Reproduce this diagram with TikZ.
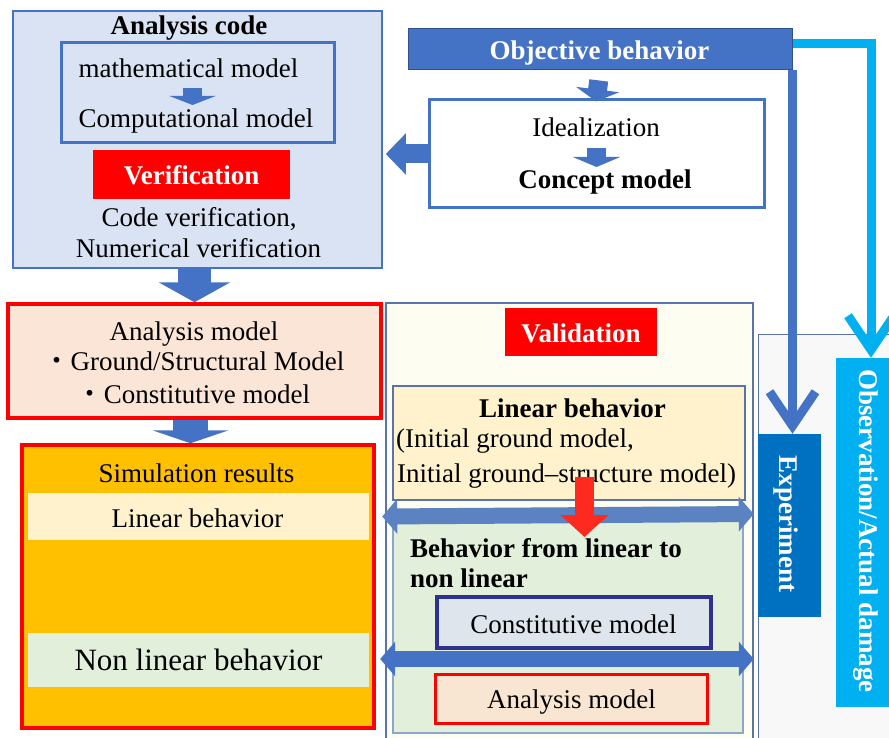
\documentclass[tikz,border=0pt]{standalone}
\usepackage{fontspec}
\setmainfont{Liberation Serif}
\newfontfamily\cjk{Noto Sans CJK JP}
\usepackage{tikz}
\usetikzlibrary{arrows.meta}

\definecolor{codefill}{HTML}{DAE3F3}
\definecolor{boxblue}{HTML}{4472C4}
\definecolor{arrline}{HTML}{2F528F}
\definecolor{amfill}{HTML}{FBE5D6}
\definecolor{simfill}{HTML}{FFC000}
\definecolor{linfill}{HTML}{FFF2CC}
\definecolor{nlfill}{HTML}{E2EFDA}
\definecolor{valfill}{HTML}{FEFDF1}
\definecolor{valline}{HTML}{5A73A8}
\definecolor{greenline}{HTML}{8DA6D0}
\definecolor{cmfill}{HTML}{DEE5EC}
\definecolor{cmline}{HTML}{2E3192}
\definecolor{amtwofill}{HTML}{F9E6D2}
\definecolor{expfill}{HTML}{0070C0}
\definecolor{obsfill}{HTML}{00B0F0}
\definecolor{grayfill}{HTML}{F8F8F8}
\definecolor{dblup}{HTML}{5B82C1}
\definecolor{redarrow}{HTML}{FF2A1F}

\begin{document}
\begin{tikzpicture}[x=1pt,y=1pt,yscale=-1,xscale=1,
  every node/.style={inner sep=0pt,font=\fontsize{27}{32}\selectfont},
  fatarrow/.style n args={4}{draw=#1,line width=#2,-{Triangle[width=#3,length=#4]}},
  dblarrow/.style={draw=#1,line width=16pt,{Triangle[width=34pt,length=15pt]}-{Triangle[width=34pt,length=15pt]}},
  barb/.style={draw=#1,line width=9pt,-{Straight Barb[width=46pt,length=34pt,line width=9pt,sharp]}}
]
\useasboundingbox (0,0) rectangle (889,738);

%Shape: Rectangle (right side)
\draw (829,539.5) node (side) [fill=grayfill,draw=valline,line width=1pt,minimum width=142pt,minimum height=411pt] {};
%Shape: Rectangle (validation)
\draw (569.5,524) node (val) [fill=valfill,draw=valline,line width=1.5pt,minimum width=367pt,minimum height=442pt] {};

%Shape: Rectangle
\draw (197.5,139.5) node (code) [fill=codefill,draw=boxblue,line width=1.5pt,minimum width=369pt,minimum height=257pt] {};
%Shape: Rectangle
\draw (197.5,93) node (modelbox) [draw=boxblue,line width=3pt,minimum width=273pt,minimum height=100pt] {};
%Shape: Rectangle
\draw (191.5,174.5) node (verif) [fill=red,minimum width=197pt,minimum height=49pt] {};
%Shape: Rectangle
\draw (600,49.5) node (obj) [fill=boxblue,draw=arrline,line width=1pt,minimum width=384pt,minimum height=41pt] {};
%Shape: Rectangle
\draw (596.5,154) node (ideal) [fill=white,draw=boxblue,line width=3pt,minimum width=335pt,minimum height=108pt] {};
%Shape: Rectangle
\draw (194.5,361) node (amodel) [fill=amfill,draw=red,line width=3.5pt,minimum width=373pt,minimum height=114pt] {};
%Shape: Rectangle
\draw (198,586.5) node (sim) [fill=simfill,draw=red,line width=3.5pt,minimum width=352pt,minimum height=283pt] {};
%Shape: Rectangle
\draw (198.5,516.5) node (linband) [fill=linfill,minimum width=341pt,minimum height=47pt] {};
%Shape: Rectangle
\draw (198.5,660) node (nlband) [fill=nlfill,minimum width=341pt,minimum height=54pt] {};
%Shape: Rectangle
\draw (581,332) node (vallabel) [fill=red,minimum width=152pt,minimum height=48pt] {};
%Shape: Rectangle
\draw (569,443) node (linbox) [fill=linfill,draw=valline,line width=1.5pt,minimum width=352pt,minimum height=114pt] {};
%Shape: Rectangle
\draw (568,622.5) node (greenbox) [fill=nlfill,draw=greenline,line width=1.5pt,minimum width=350pt,minimum height=221pt] {};
%Shape: Rectangle
\draw (574,622.5) node (cmbox) [fill=cmfill,draw=cmline,line width=3.5pt,minimum width=274pt,minimum height=51pt] {};
%Shape: Rectangle
\draw (571,698.5) node (amtwo) [fill=amtwofill,draw=red,line width=3pt,minimum width=272pt,minimum height=49pt] {};
%Shape: Rectangle
\draw (789.5,525.5) node (exp) [fill=expfill,minimum width=63pt,minimum height=183pt] {};
%Shape: Rectangle
\draw (862.5,532.5) node (obs) [fill=obsfill,minimum width=53pt,minimum height=349pt] {};

% Text Node
\draw (189,35) node (codetitle) [anchor=base] {\bfseries Analysis code};
% Text Node
\draw (188.5,78) node (math) [anchor=base] {mathematical model};
% Text Node
\draw (196,128) node (comp) [anchor=base] {Computational model};
% Text Node
\draw (191.5,185) node (veriftext) [anchor=base,text=white] {\bfseries Verification};
% Text Node
\draw (199,227) node (codever) [anchor=base] {Code verification,};
% Text Node
\draw (198.5,258) node (numver) [anchor=base] {Numerical verification};
% Text Node
\draw (599.5,60) node (objtext) [anchor=base,text=white] {\bfseries Objective behavior};
% Text Node
\draw (596,137) node (idealtext) [anchor=base] {Idealization};
% Text Node
\draw (605,189) node (concept) [anchor=base] {\bfseries Concept model};
% Text Node
\draw (194,340) node (amtext) [anchor=base] {Analysis model};
% Text Node
\draw (194,370) node (gsm) [anchor=base] {{\cjk ・}Ground/Structural Model};
% Text Node
\draw (193.5,403) node (consm) [anchor=base] {{\cjk ・}Constitutive model};
% Text Node
\draw (196.5,482) node (simtext) [anchor=base] {Simulation results};
% Text Node
\draw (197.5,527) node (lintext) [anchor=base] {Linear behavior};
% Text Node
\draw (198.5,670) node (nltext) [anchor=base,font=\fontsize{31}{36}\selectfont] {Non linear behavior};
% Text Node
\draw (581,342) node (valtext) [anchor=base,text=white] {\bfseries Validation};
% Text Node
\draw (572.5,417) node (linhead) [anchor=base] {\bfseries Linear behavior};
% Text Node
\draw (396,447) node (initone) [anchor=base west] {(Initial ground model,};
% Text Node
\draw (397,482) node (inittwo) [anchor=base west] {Initial ground--structure model)};
% Text Node
\draw (410,557) node (bflone) [anchor=base west] {\bfseries Behavior from linear to};
% Text Node
\draw (410,587) node (bfltwo) [anchor=base west] {\bfseries non linear};
% Text Node
\draw (573.5,633) node (cmtext) [anchor=base] {Constitutive model};
% Text Node
\draw (571.5,708) node (amtwotext) [anchor=base] {Analysis model};
% Text Node
\draw (779,524) node (exptext) [anchor=base,rotate=-90,text=white] {\bfseries Experiment};
% Text Node
\draw (859,531) node (obstext) [anchor=base,rotate=-90,text=white] {\bfseries Observation/Actual damage};

% small arrows
\coordinate (mc1) at (192.5,88);
\coordinate (mc2) at (192.5,105);
\draw[fatarrow={boxblue}{19pt}{46pt}{9pt}] (mc1) -- (mc2);
\coordinate (ic1) at (596.5,148);
\coordinate (ic2) at (596.5,167);
\draw[fatarrow={boxblue}{19pt}{47pt}{10pt}] (ic1) -- (ic2);

% block arrows
\draw[fatarrow={boxblue}{19pt}{43pt}{12pt},shorten <=10pt,shorten >=-3pt] (obj.south) -- (ideal.north);
\draw[fatarrow={boxblue}{19pt}{40pt}{20pt},shorten >=3pt] (ideal.west) -- (ideal.west -| code.east);
\draw[fatarrow={boxblue}{33pt}{71pt}{20pt}] (code.south -| amodel.north) -- (amodel.north);
\draw[fatarrow={boxblue}{35pt}{76pt}{13pt}] ([xshift=-4pt]amodel.south) -- ([xshift=-4pt]amodel.south |- sim.north);

% double arrows
\draw[dblarrow=dblup] ([xshift=13pt]linband.east) -- ([yshift=-2.5pt]linband.east -| val.east);
\draw[dblarrow=boxblue] ([xshift=11pt,yshift=-1pt]nlband.east) -- ([yshift=-1pt]nlband.east -| val.east);

% red arrow
\coordinate (ra1) at (584.5,477);
\coordinate (ra2) at (584.5,537);
\draw[fatarrow={redarrow}{19pt}{47pt}{22pt}] (ra1) -- (ra2);

% lines to experiment and observation
\draw[barb=boxblue] (obj.south east) -- (obj.south east |- exp.north);
\draw[barb=obsfill] ([yshift=-5.5pt]obj.east) -| ([xshift=8.5pt]obs.north);

\end{tikzpicture}
\end{document}
